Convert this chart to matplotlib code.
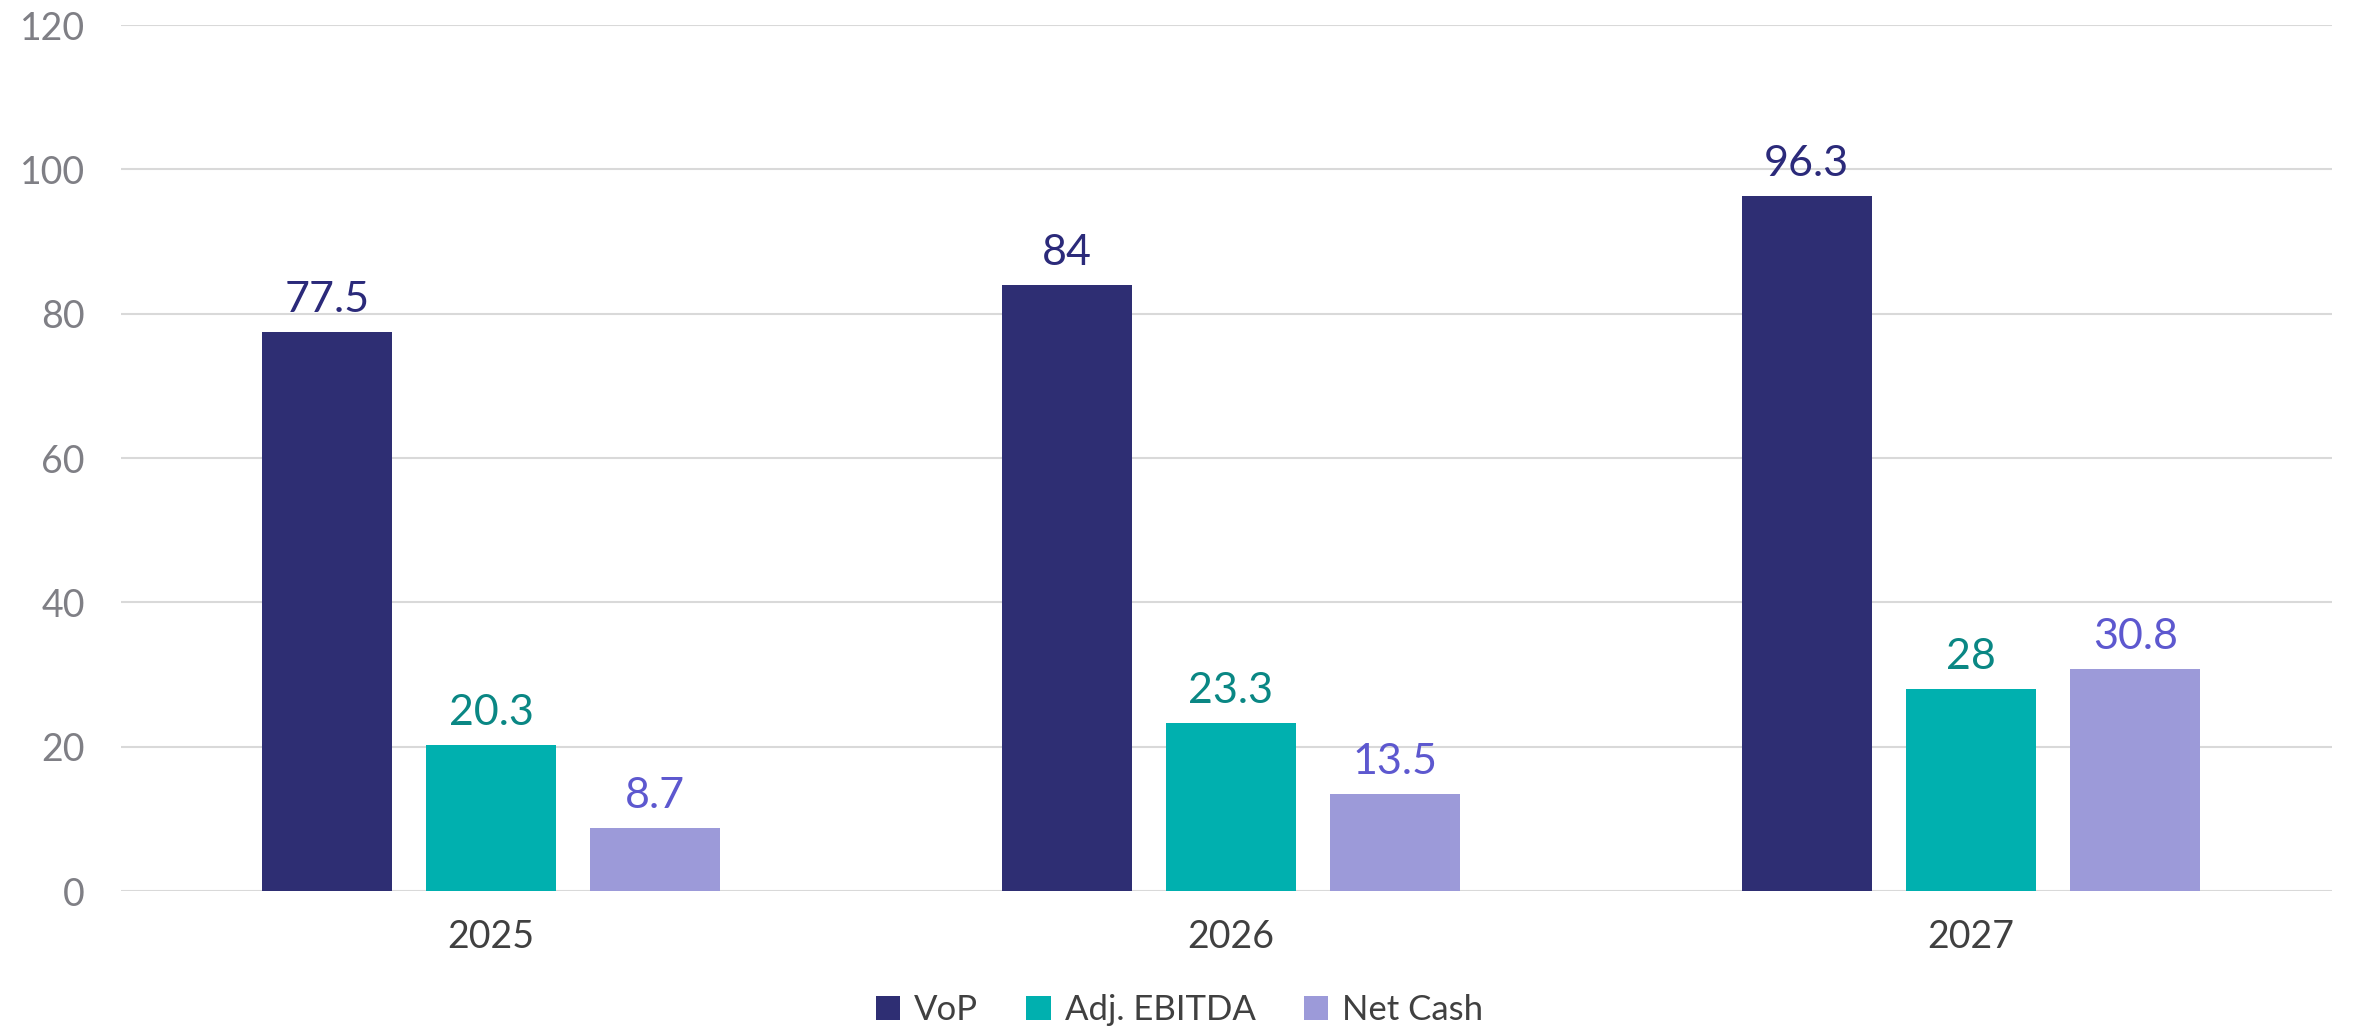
import numpy as np
import matplotlib.pyplot as plt

plt.rcParams['font.family'] = ['Lato', 'DejaVu Sans']

# data
years = ['2025', '2026', '2027']
vop = [77.5, 84, 96.3]
ebitda = [20.3, 23.3, 28]
net_cash = [8.7, 13.5, 30.8]

series = [
    ('VoP', vop, '#2E2E73', '#2B2A7A'),
    ('Adj. EBITDA', ebitda, '#00B0AF', '#0A8784'),
    ('Net Cash', net_cash, '#9C9AD9', '#5D58CF'),
]

fig = plt.figure(figsize=(23.59, 10.33), dpi=100)
ax = fig.add_axes([121 / 2359, 1 - 891 / 1033, (2332 - 121) / 2359, (891 - 25) / 1033])

x = np.arange(len(years))
w = 0.176
step = 0.222
for i, (name, vals, col, lcol) in enumerate(series):
    pos = x + (i - 1) * step
    bars = ax.bar(pos, vals, width=w, color=col, label=name, zorder=3)
    for b, v in zip(bars, vals):
        ax.text(b.get_x() + b.get_width() / 2, v + 1.8, f'{v:g}',
                ha='center', va='bottom', fontsize=31, color=lcol)

ax.set_xlim(-0.5, 2.488)
ax.set_ylim(0, 120)
ax.set_yticks(range(0, 121, 20))
ax.grid(axis='y', color='#D9D9D9', linewidth=1.5, zorder=0)
for s in ax.spines.values():
    s.set_visible(False)
ax.tick_params(axis='y', length=0, pad=26, labelsize=27, labelcolor='#7F7F85')
ax.tick_params(axis='x', length=0, pad=20, labelsize=27, labelcolor='#404040')
ax.set_xticks(x)
ax.set_xticklabels(years)

fig.legend(loc='center', bbox_to_anchor=(0.5, 1 - 1010 / 1033), ncol=3, frameon=False,
           fontsize=25, labelcolor='#404040', handlelength=0.7, handleheight=0.7,
           handletextpad=0.4, columnspacing=1.4)

fig.savefig('out.png', dpi=100, facecolor='white')
